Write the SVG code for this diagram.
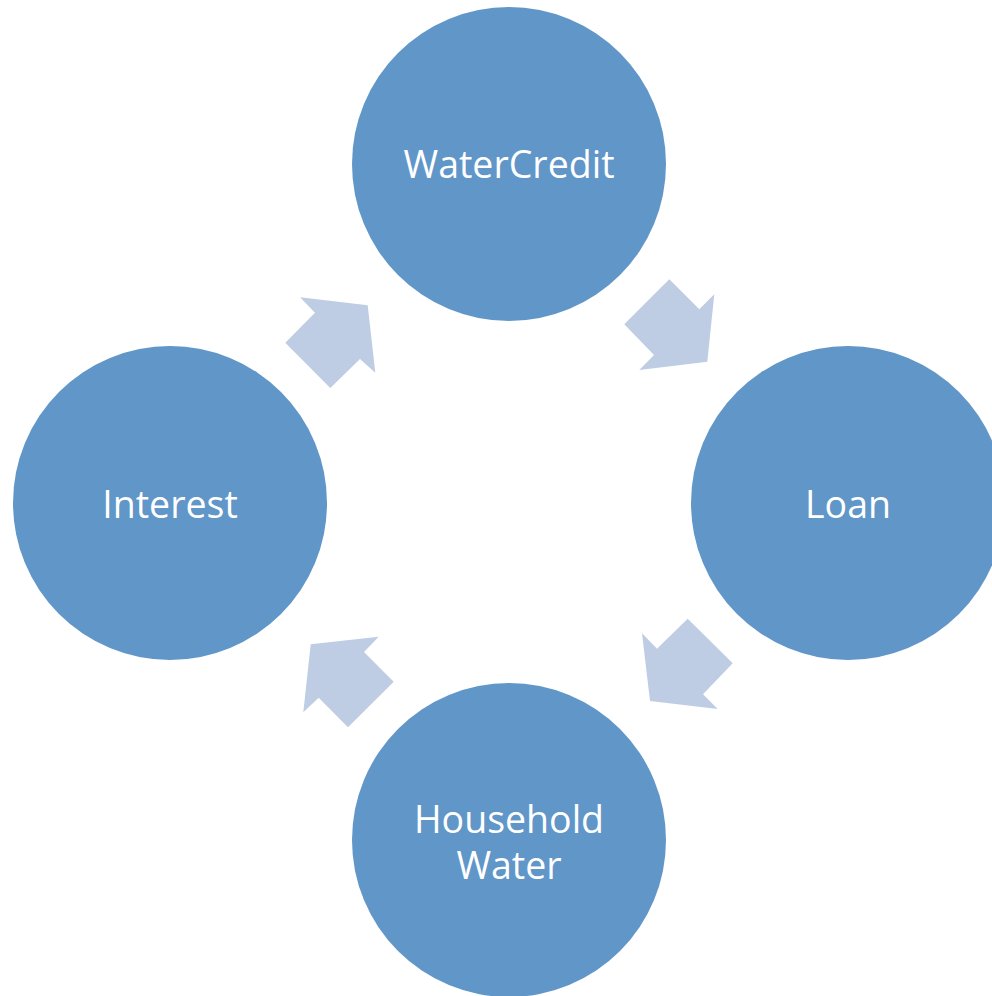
<svg xmlns="http://www.w3.org/2000/svg" width="992" height="996" viewBox="0 0 992 996">
<style>
.node{fill:#6096C8}
.lbl{fill:#FFFFFF;font-family:"Open Sans","Noto Sans",sans-serif;font-size:37.5px;text-anchor:middle}
.arr{fill:#BECDE3}
</style>
<rect width="992" height="996" fill="#FFFFFF"/>
<g id="connectors">
<polygon class="arr" points="669.3,279.3 699.3,309.3 714.3,294.3 707.3,361.7 639.3,370 654,355 624.3,324.3"/>
<polygon class="arr" points="687.7,618.7 732.7,663.3 703,694.3 717.7,709 650,701 642,633.3 657,648.7"/>
<polygon class="arr" points="310.7,644.3 378.7,636.7 364,652 393.7,681.7 348,727.3 318.7,697.7 303.3,712.3"/>
<polygon class="arr" points="300,297.3 367.7,305.3 375.3,372.7 360,359 330.3,388 285.3,342.7 315,312.7"/>
</g>
<g id="node-watercredit">
<circle class="node" cx="509" cy="164" r="157"/>
<text class="lbl" x="509" y="178">WaterCredit</text>
</g>
<g id="node-loan">
<circle class="node" cx="848" cy="503" r="157"/>
<text class="lbl" x="848" y="518">Loan</text>
</g>
<g id="node-household-water">
<circle class="node" cx="509" cy="840" r="157"/>
<text class="lbl" x="509" y="833">Household</text>
<text class="lbl" x="509" y="879">Water</text>
</g>
<g id="node-interest">
<circle class="node" cx="170" cy="503" r="157"/>
<text class="lbl" x="170" y="518">Interest</text>
</g>
</svg>
